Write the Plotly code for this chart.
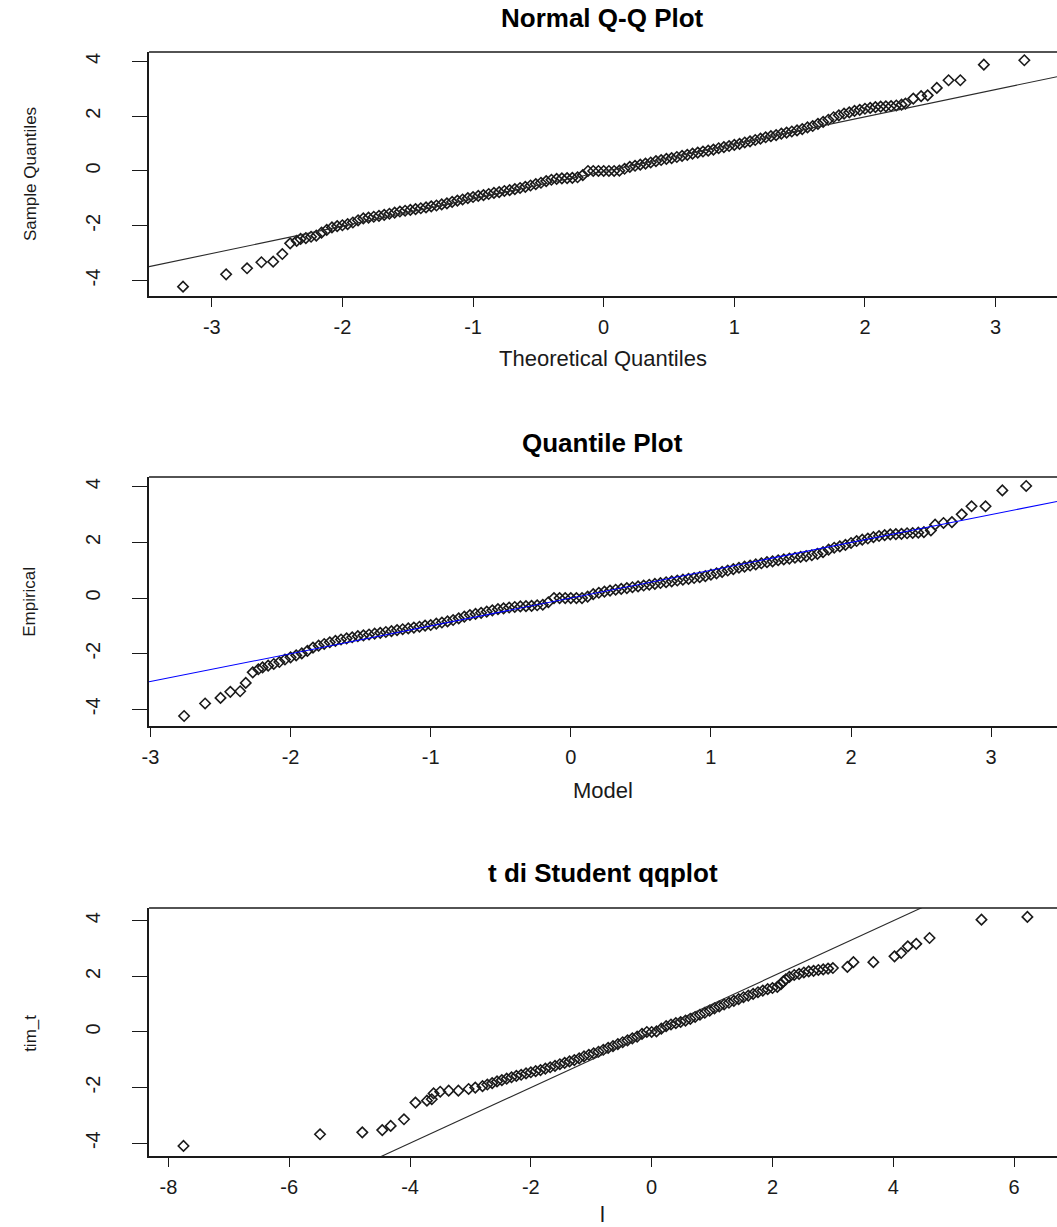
import plotly.graph_objects as go

FONT = "Liberation Sans, Arial, sans-serif"
INK = "#1a1a1a"

# ---- Normal Q-Q plot: theoretical normal quantiles vs sorted sample ----
qq_theoretical = [
    -3.22, -2.89, -2.73, -2.62, -2.53, -2.46, -2.40, -2.35, -2.32, -2.28, -2.24,
    -2.20, -2.16, -2.12, -2.08, -2.04, -2.00, -1.96, -1.92, -1.88, -1.84,
    -1.80, -1.76, -1.72, -1.68, -1.64, -1.60, -1.56, -1.52, -1.48, -1.44,
    -1.40, -1.36, -1.32, -1.28, -1.24, -1.20, -1.16, -1.12, -1.08, -1.04,
    -1.00, -0.96, -0.92, -0.88, -0.84, -0.80, -0.76, -0.72, -0.68, -0.64,
    -0.60, -0.56, -0.52, -0.48, -0.44, -0.40, -0.36, -0.32, -0.28, -0.24,
    -0.20, -0.16, -0.12, -0.08, -0.04, 0.00, 0.04, 0.08, 0.12, 0.16,
    0.20, 0.24, 0.28, 0.32, 0.36, 0.40, 0.44, 0.48, 0.52, 0.56,
    0.60, 0.64, 0.68, 0.72, 0.76, 0.80, 0.84, 0.88, 0.92, 0.96,
    1.00, 1.04, 1.08, 1.12, 1.16, 1.20, 1.24, 1.28, 1.32, 1.36,
    1.40, 1.44, 1.48, 1.52, 1.56, 1.60, 1.64, 1.68, 1.72, 1.76,
    1.80, 1.84, 1.88, 1.92, 1.96, 2.00, 2.04, 2.08, 2.12, 2.16,
    2.20, 2.24, 2.28, 2.31, 2.37, 2.43, 2.48, 2.55, 2.64, 2.73, 2.91, 3.22]
qq_sample = [
    -4.22, -3.77, -3.55, -3.33, -3.31, -3.03, -2.64, -2.55, -2.48, -2.45, -2.40,
    -2.36, -2.25, -2.15, -2.06, -2.01, -1.98, -1.94, -1.88, -1.80, -1.73,
    -1.70, -1.67, -1.64, -1.60, -1.56, -1.52, -1.48, -1.45, -1.42, -1.39,
    -1.36, -1.33, -1.29, -1.26, -1.22, -1.18, -1.13, -1.08, -1.04, -0.99,
    -0.95, -0.91, -0.88, -0.84, -0.80, -0.77, -0.73, -0.70, -0.66, -0.62,
    -0.58, -0.53, -0.48, -0.43, -0.37, -0.32, -0.29, -0.27, -0.26, -0.25,
    -0.23, -0.15, 0.00, 0.00, 0.00, 0.00, 0.00, 0.00, 0.01, 0.08,
    0.15, 0.19, 0.23, 0.27, 0.31, 0.36, 0.40, 0.44, 0.47, 0.51,
    0.55, 0.59, 0.63, 0.67, 0.71, 0.74, 0.78, 0.83, 0.87, 0.91,
    0.95, 0.99, 1.04, 1.08, 1.13, 1.18, 1.23, 1.27, 1.31, 1.36,
    1.40, 1.44, 1.48, 1.53, 1.59, 1.64, 1.72, 1.79, 1.87, 1.96,
    2.03, 2.09, 2.14, 2.19, 2.23, 2.27, 2.30, 2.33, 2.35, 2.36,
    2.37, 2.39, 2.42, 2.46, 2.64, 2.73, 2.76, 3.03, 3.31, 3.31, 3.88, 4.04]
qq_line = {"intercept": -0.02, "slope": 0.997}

# ---- Quantile plot: fitted model quantiles vs empirical quantiles ----
model_q = [
    -2.76, -2.61, -2.50, -2.43, -2.36, -2.32, -2.27, -2.23, -2.20,
    -2.16, -2.12, -2.08, -2.04, -2.00, -1.96, -1.92, -1.88, -1.84, -1.80,
    -1.76, -1.72, -1.68, -1.64, -1.60, -1.56, -1.52, -1.48, -1.44, -1.40,
    -1.36, -1.32, -1.28, -1.24, -1.20, -1.16, -1.12, -1.08, -1.04, -1.00,
    -0.96, -0.92, -0.88, -0.84, -0.80, -0.76, -0.72, -0.68, -0.64, -0.60,
    -0.56, -0.52, -0.48, -0.44, -0.40, -0.36, -0.32, -0.28, -0.24, -0.20,
    -0.16, -0.12, -0.08, -0.04, 0.00, 0.04, 0.08, 0.12, 0.16, 0.20,
    0.24, 0.28, 0.32, 0.36, 0.40, 0.44, 0.48, 0.52, 0.56, 0.60,
    0.64, 0.68, 0.72, 0.76, 0.80, 0.84, 0.88, 0.92, 0.96, 1.00,
    1.04, 1.08, 1.12, 1.16, 1.20, 1.24, 1.28, 1.32, 1.36, 1.40,
    1.44, 1.48, 1.52, 1.56, 1.60, 1.64, 1.68, 1.72, 1.76, 1.80,
    1.84, 1.88, 1.92, 1.96, 2.00, 2.04, 2.08, 2.12, 2.16, 2.20,
    2.24, 2.28, 2.32, 2.36, 2.40, 2.44, 2.48, 2.52,
    2.57, 2.60, 2.66, 2.72, 2.79, 2.86, 2.96, 3.08, 3.25]
empirical_q = [
    -4.24, -3.79, -3.59, -3.37, -3.35, -3.05, -2.67, -2.56, -2.49,
    -2.43, -2.37, -2.30, -2.21, -2.13, -2.06, -1.99, -1.90, -1.78, -1.71,
    -1.65, -1.59, -1.54, -1.49, -1.45, -1.41, -1.37, -1.34, -1.31, -1.28,
    -1.25, -1.22, -1.19, -1.15, -1.12, -1.09, -1.06, -1.03, -0.99, -0.97,
    -0.92, -0.88, -0.84, -0.79, -0.73, -0.67, -0.61, -0.57, -0.53, -0.49,
    -0.44, -0.40, -0.37, -0.34, -0.32, -0.30, -0.29, -0.28, -0.26, -0.24,
    -0.15, 0.00, 0.00, 0.00, 0.00, 0.00, 0.00, 0.05, 0.14, 0.19,
    0.23, 0.27, 0.30, 0.33, 0.36, 0.39, 0.42, 0.45, 0.48, 0.51,
    0.54, 0.57, 0.60, 0.63, 0.66, 0.69, 0.72, 0.75, 0.79, 0.84,
    0.89, 0.94, 0.99, 1.04, 1.09, 1.13, 1.17, 1.21, 1.25, 1.29,
    1.32, 1.36, 1.39, 1.42, 1.45, 1.48, 1.51, 1.54, 1.59, 1.65,
    1.74, 1.81, 1.86, 1.91, 1.98, 2.05, 2.10, 2.14, 2.19, 2.23,
    2.26, 2.29, 2.30, 2.31, 2.33, 2.34, 2.35, 2.37,
    2.43, 2.64, 2.70, 2.73, 3.01, 3.30, 3.30, 3.87, 4.03]
identity_line = {"intercept": 0.0, "slope": 1.0}

# ---- Student t Q-Q plot: t quantiles vs tim_t ----
t_quant = [
    -7.75, -5.49, -4.79, -4.46, -4.32, -4.10, -3.91, -3.72, -3.64, -3.61,
    -3.50, -3.36, -3.20, -3.03, -2.92,
    -2.80, -2.72, -2.64, -2.56, -2.48, -2.40, -2.32, -2.24, -2.16, -2.08,
    -2.00, -1.92, -1.84, -1.76, -1.68, -1.60, -1.52, -1.44, -1.36, -1.28,
    -1.20, -1.12, -1.04, -0.96, -0.88, -0.80, -0.72, -0.64, -0.56, -0.48,
    -0.40, -0.32, -0.24, -0.16, -0.08, 0.00, 0.08, 0.16, 0.24, 0.32,
    0.40, 0.48, 0.56, 0.64, 0.72, 0.80, 0.88, 0.96, 1.04, 1.12,
    1.20, 1.28, 1.36, 1.44, 1.52, 1.60, 1.68, 1.76, 1.84, 1.92,
    2.00, 2.08, 2.14, 2.18, 2.22, 2.28, 2.36, 2.44, 2.52, 2.60,
    2.68, 2.76, 2.84, 2.92, 3.00,
    3.24, 3.34, 3.67, 4.02, 4.13, 4.24, 4.38, 4.60, 5.46, 6.22]
tim_t = [
    -4.10, -3.68, -3.61, -3.53, -3.38, -3.14, -2.54, -2.47, -2.42, -2.21,
    -2.15, -2.11, -2.11, -2.05, -2.00,
    -1.95, -1.89, -1.84, -1.78, -1.73, -1.68, -1.63, -1.58, -1.54, -1.49,
    -1.45, -1.41, -1.37, -1.32, -1.27, -1.22, -1.16, -1.11, -1.06, -1.01,
    -0.95, -0.88, -0.82, -0.77, -0.71, -0.64, -0.57, -0.51, -0.44, -0.37,
    -0.30, -0.23, -0.17, -0.07, 0.00, 0.00, 0.02, 0.12, 0.21, 0.27,
    0.32, 0.36, 0.41, 0.47, 0.54, 0.62, 0.69, 0.77, 0.85, 0.92,
    0.99, 1.05, 1.12, 1.18, 1.25, 1.31, 1.37, 1.43, 1.49, 1.54,
    1.58, 1.62, 1.72, 1.82, 1.89, 1.98, 2.05, 2.09, 2.14, 2.18,
    2.20, 2.23, 2.25, 2.28, 2.30,
    2.34, 2.51, 2.51, 2.72, 2.84, 3.08, 3.17, 3.38, 4.04, 4.14]
t_line = {"intercept": 0.0, "slope": 1.0}

# Tick values
x1_ticks = [-3, -2, -1, 0, 1, 2, 3]
x2_ticks = [-3, -2, -1, 0, 1, 2, 3]
x3_ticks = [-8, -6, -4, -2, 0, 2, 4, 6]
y_ticks = [-4, -2, 0, 2, 4]

panels = [
    {"title": "Normal Q-Q Plot", "xlab": "Theoretical Quantiles", "ylab": "Sample Quantiles",
     "x": qq_theoretical, "y": qq_sample, "line": qq_line, "line_color": "#2b2b2b",
     "xrange": [-3.48, 3.47], "yrange": [-4.56, 4.34], "xticks": x1_ticks,
     "domain": [0.7588, 0.9576], "title_y": 0.9853, "xlab_y": 0.7082, "ylab_y": 0.8580},
    {"title": "Quantile Plot", "xlab": "Model", "ylab": "Empirical",
     "x": model_q, "y": empirical_q, "line": identity_line, "line_color": "#0000ff",
     "xrange": [-3.01, 3.47], "yrange": [-4.60, 4.35], "xticks": x2_ticks,
     "domain": [0.4083, 0.6112], "title_y": 0.6390, "xlab_y": 0.3561, "ylab_y": 0.5094},
    {"title": "t di Student qqplot", "xlab": "l", "ylab": "tim_t",
     "x": t_quant, "y": tim_t, "line": t_line, "line_color": "#2b2b2b",
     "xrange": [-8.32, 6.71], "yrange": [-4.46, 4.46], "xticks": x3_ticks,
     "domain": [0.0579, 0.2600], "title_y": 0.2885, "xlab_y": None, "ylab_y": 0.1581},
]

X_DOMAIN = [0.1353, 1.0]
X_CENTER = 0.5676

fig = go.Figure()
layout = dict(
    width=1057, height=1227,
    margin=dict(l=0, r=0, t=0, b=0),
    paper_bgcolor="white", plot_bgcolor="white",
    showlegend=False,
    annotations=[], shapes=[],
)

for i, p in enumerate(panels, start=1):
    sx = "" if i == 1 else str(i)
    xa, ya = "x" + sx, "y" + sx

    fig.add_trace(go.Scatter(
        x=p["x"], y=p["y"], mode="markers", xaxis=xa, yaxis=ya,
        marker=dict(symbol="diamond-open", size=8, color=INK, line=dict(width=1.6, color=INK)),
        hoverinfo="skip",
    ))
    # reference line across the full x range (clipped to the plot area)
    lx = p["xrange"]
    ly = [p["line"]["intercept"] + p["line"]["slope"] * v for v in lx]
    fig.add_trace(go.Scatter(
        x=lx, y=ly, mode="lines", xaxis=xa, yaxis=ya,
        line=dict(color=p["line_color"], width=1.1), hoverinfo="skip",
    ))

    layout["xaxis" + sx] = dict(
        domain=X_DOMAIN, range=p["xrange"], anchor=ya,
        showline=True, linecolor=INK, linewidth=1.5,
        ticks="outside", ticklen=9, tickwidth=1.3, tickcolor=INK,
        tickvals=p["xticks"], ticktext=[str(v) for v in p["xticks"]],
        tickfont=dict(family=FONT, size=20, color=INK),
        showgrid=False, zeroline=False, ticklabelstandoff=3,
    )
    layout["yaxis" + sx] = dict(
        domain=p["domain"], range=p["yrange"], anchor=xa,
        showline=True, linecolor=INK, linewidth=1.5,
        ticks="outside", ticklen=15, tickwidth=1.3, tickcolor=INK,
        tickvals=y_ticks, ticktext=[str(v) for v in y_ticks],
        tickangle=-90,
        tickfont=dict(family=FONT, size=20, color=INK),
        showgrid=False, zeroline=False, ticklabelstandoff=24,
    )
    # top border of the box
    layout["shapes"].append(dict(
        type="line", xref=xa + " domain", yref=ya + " domain",
        x0=0, x1=1, y0=1, y1=1, line=dict(color=INK, width=1.5), layer="above",
    ))
    xlab = dict(text=p["xlab"], xref="paper", yref="paper", x=X_CENTER, showarrow=False,
                xanchor="center", font=dict(family=FONT, size=22, color=INK))
    if p["xlab_y"] is None:
        xlab.update(y=-0.002, yanchor="bottom")
    else:
        xlab.update(y=p["xlab_y"], yanchor="middle")
    layout["annotations"] += [
        dict(text="<b>" + p["title"] + "</b>", xref="paper", yref="paper",
             x=X_CENTER, y=p["title_y"], showarrow=False, xanchor="center", yanchor="middle",
             font=dict(family=FONT, size=26, color="black")),
        xlab,
        dict(text=p["ylab"], xref="paper", yref="paper", textangle=-90,
             x=23 / 1057, y=p["ylab_y"], showarrow=False, xanchor="center", yanchor="middle",
             font=dict(family=FONT, size=17, color=INK)),
    ]

fig.update_layout(**layout)
fig.write_html("out.html")
